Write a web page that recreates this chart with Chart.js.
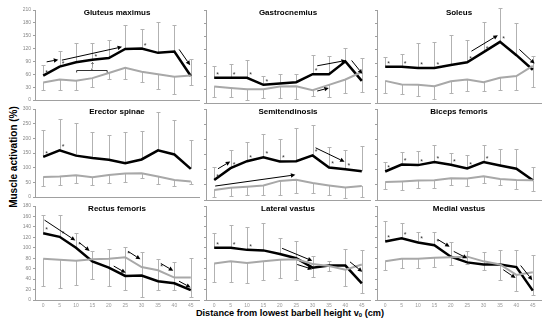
<!DOCTYPE html>
<html><head><meta charset="utf-8">
<script src="https://cdn.jsdelivr.net/npm/chart.js@4.4.0/dist/chart.umd.min.js"></script>
<style>
html,body{margin:0;padding:0;background:#fff;}
#wrap{position:relative;width:550px;height:322px;overflow:hidden;font-family:"Liberation Sans",Arial,sans-serif;}
#wrap canvas{position:absolute;}
.ytitle{position:absolute;left:12.5px;top:157px;transform:translate(-50%,-50%) rotate(-90deg);font-weight:bold;font-size:10px;white-space:nowrap;color:#000;}
.xtitle{position:absolute;left:290px;top:312.5px;transform:translate(-50%,-50%);font-weight:bold;font-size:9.2px;white-space:nowrap;color:#000;}
.xtitle sub{font-size:6px;vertical-align:-1px;}
</style></head>
<body><div id="wrap">
<div class="ytitle">Muscle activation (%)</div>
<div class="xtitle">Distance from lowest barbell height v<sub>0</sub> (cm)</div>
</div>
<script>
// ---------- categories & tick labels ----------
const distanceLabels = ['0','5','10','15','20','25','30','35','40','45'];
const row1Ticks = [0,30,60,90,120,150,180,210];
const row2Ticks = [0,50,100,150,200,250,300];
const row3Ticks = [0,20,40,60,80,100,120,140,160,180];

// ---------- Gluteus maximus ----------
const gluteusBlack      = [57, 78, 88, 94, 98, 119, 120, 110, 113, 56];
const gluteusBlackUpper = [82, 114, 132, 134, 140, 175, 166, 181, 174, 95];
const gluteusGrey       = [41, 48, 45, 51, 63, 75, 66, 60, 54, 57];
const gluteusGreyLower  = [23, 24, 23, 30, 49, 50, 41, 25, 14, 36];
const gluteusStars  = [[0,'b'],[1,'b'],[3,'b'],[6,'b']];
const gluteusArrows = [[0.21,89,0.92,94],[1.14,93,4.81,124],[8.29,118,8.96,81]];

// ---------- Gastrocnemius ----------
const gastroBlack      = [57, 57, 57, 41, 44, 47, 65, 65, 94, 50];
const gastroBlackUpper = [84, 89, 96, 62, 66, 66, 108, 106, 124, 102];
const gastroGrey       = [37, 34, 31, 31, 37, 38, 29, 41, 53, 70];
const gastroGreyLower  = [13, 13, 6, 12, 12, 9, 16, 13, 23, 25];
const gastroStars  = [[0,'b'],[1,'b'],[2,'b'],[3,'b'],[6,'b']];
const gastroArrows = [[6.28,84,8.03,96],[6.28,27,6.99,34],[8.38,96,9.03,66]];

// ---------- Soleus ----------
const soleusBlack      = [82, 82, 79, 79, 86, 92, 115, 138, 108, 75];
const soleusBlackUpper = [103, 110, 135, 137, 154, 142, 182, 214, 180, 106];
const soleusGrey       = [50, 42, 41, 38, 49, 53, 47, 57, 61, 84];
const soleusGreyLower  = [22, 21, 16, 10, 22, 28, 27, 30, 30, 37];
const soleusStars  = [[0,'b'],[1,'b'],[2,'b'],[3,'b'],[5,'b'],[6,'b'],[7,'b']];
const soleusArrows = [[5.26,117,6.87,153],[8.18,121,9.11,89]];

// ---------- Erector spinae ----------
const erectorBlack      = [137, 159, 141, 133, 127, 115, 128, 159, 145, 96];
const erectorBlackUpper = [229, 266, 251, 221, 212, 223, 225, 290, 262, 196];
const erectorGrey       = [68, 70, 74, 67, 75, 80, 81, 70, 58, 53];
const erectorGreyLower  = [38, 41, 49, 40, 48, 52, 64, 46, 37, 45];
const erectorStars  = [[0,'b'],[1,'b']];
const erectorArrows = [];

// ---------- Semitendinosis ----------
const semiBlack      = [66, 105, 128, 141, 127, 128, 147, 107, 101, 95];
const semiBlackUpper = [108, 164, 192, 219, 201, 236, 248, 175, 165, 177];
const semiGrey       = [33, 40, 44, 48, 63, 67, 56, 48, 41, 46];
const semiGreyLower  = [11, 13, 15, 15, 18, 24, 24, 15, 7, 11];
const semiStars  = [[0,'b'],[1,'b'],[2,'b'],[3,'b'],[4,'b'],[6,'b'],[7,'b'],[8,'b']];
const semiArrows = [[0.23,103,0.98,127],[6.18,172,7.95,126],[0.06,46,4.95,83]];

// ---------- Biceps femoris ----------
const bicepsBlack      = [94, 117, 115, 125, 116, 104, 125, 114, 103, 65];
const bicepsBlackUpper = [126, 159, 163, 181, 155, 149, 182, 169, 167, 110];
const bicepsGrey       = [59, 61, 64, 65, 72, 71, 78, 69, 66, 65];
const bicepsGreyLower  = [37, 33, 41, 40, 48, 46, 57, 48, 35, 29];
const bicepsStars  = [[0,'b'],[1,'b'],[2,'b'],[3,'b'],[4,'b'],[5,'b'],[6,'b']];
const bicepsArrows = [];

// ---------- Rectus femoris ----------
const rectusBlack      = [128, 121, 100, 74, 62, 46, 47, 36, 32, 19];
const rectusBlackUpper = [163, 162, 128, 93, 97, 101, 91, 79, 72, 80];
const rectusGrey       = [79, 77, 75, 78, 79, 82, 63, 57, 43, 43];
const rectusGreyLower  = [27, 23, 29, 41, 26, 20, 6, 20, 20, 6];
const rectusStars  = [[0,'b'],[1,'b'],[2,'b'],[5,'g'],[7,'g']];
const rectusArrows = [[0.08,153,1.96,114],[2.2,110,2.83,94],[4.3,65,5.03,52],[5.18,93,5.93,78],[7.17,70,7.93,56],[8.28,36,8.99,24]];

// ---------- Lateral vastus ----------
const lateralBlack      = [100, 100, 96, 95, 88, 80, 62, 66, 66, 32];
const lateralBlackUpper = [128, 144, 139, 147, 118, 113, 84, 74, 98, 95];
const lateralGrey       = [70, 74, 71, 74, 77, 78, 69, 65, 58, 68];
const lateralGreyLower  = [35, 34, 32, 39, 42, 38, 45, 55, 27, 13];
const lateralStars  = [[0,'b'],[1,'b'],[2,'b']];
const lateralArrows = [[4.14,99,5.98,75],[5.06,68,5.98,59],[8.28,73,9.03,54]];

// ---------- Medial vastus ----------
const medialBlack      = [112, 118, 110, 105, 83, 72, 68, 68, 63, 18];
const medialBlackUpper = [152, 148, 130, 130, 112, 93, 91, 96, 96, 86];
const medialGrey       = [74, 79, 79, 81, 82, 83, 74, 68, 48, 53];
const medialGreyLower  = [57, 62, 62, 64, 67, 68, 57, 38, 17, 10];
const medialStars  = [[0,'b'],[1,'b'],[2,'b'],[3,'b']];
const medialArrows = [[3.2,116,3.93,102],[4.18,93,5.0,80],[7.2,58,7.95,42],[8.26,66,8.97,38]];

// ---------- layout (positions only) ----------
const colLeft = [35, 206, 377];
const rowTop = [10, 109.3, 206];
const rowBottom = [102.5, 200.7, 300];
const areaW = 163.5, YW = 14, PT = 6, PR = 4;

const panels = [
  {name:'Gluteus maximus', c:0, r:0, ticks:row1Ticks, b:gluteusBlack, bu:gluteusBlackUpper, g:gluteusGrey, gl:gluteusGreyLower, stars:gluteusStars, arrows:gluteusArrows,
    bracket:{x0:2.04, x1:3.9, y:69, text:'\u2020', tx:3.0, ty:81}},
  {name:'Gastrocnemius', c:1, r:0, ticks:row1Ticks, b:gastroBlack, bu:gastroBlackUpper, g:gastroGrey, gl:gastroGreyLower, stars:gastroStars, arrows:gastroArrows},
  {name:'Soleus', c:2, r:0, ticks:row1Ticks, b:soleusBlack, bu:soleusBlackUpper, g:soleusGrey, gl:soleusGreyLower, stars:soleusStars, arrows:soleusArrows},
  {name:'Erector spinae', c:0, r:1, ticks:row2Ticks, b:erectorBlack, bu:erectorBlackUpper, g:erectorGrey, gl:erectorGreyLower, stars:erectorStars, arrows:erectorArrows},
  {name:'Semitendinosis', c:1, r:1, ticks:row2Ticks, b:semiBlack, bu:semiBlackUpper, g:semiGrey, gl:semiGreyLower, stars:semiStars, arrows:semiArrows},
  {name:'Biceps femoris', c:2, r:1, ticks:row2Ticks, b:bicepsBlack, bu:bicepsBlackUpper, g:bicepsGrey, gl:bicepsGreyLower, stars:bicepsStars, arrows:bicepsArrows},
  {name:'Rectus femoris', c:0, r:2, ticks:row3Ticks, b:rectusBlack, bu:rectusBlackUpper, g:rectusGrey, gl:rectusGreyLower, stars:rectusStars, arrows:rectusArrows},
  {name:'Lateral vastus', c:1, r:2, ticks:row3Ticks, b:lateralBlack, bu:lateralBlackUpper, g:lateralGrey, gl:lateralGreyLower, stars:lateralStars, arrows:lateralArrows},
  {name:'Medial vastus', c:2, r:2, ticks:row3Ticks, b:medialBlack, bu:medialBlackUpper, g:medialGrey, gl:medialGreyLower, stars:medialStars, arrows:medialArrows}
];

const FONT = '"Liberation Sans", Arial, sans-serif';
const AXIS = '#a0a0a0';

function makeDeco(p) {
  return {
    id: 'deco_' + p.c + p.r,
    beforeDatasetsDraw(chart) {
      const ctx = chart.ctx, xs = chart.scales.x, ys = chart.scales.y;
      ctx.save();
      ctx.strokeStyle = '#b2b2b2'; ctx.lineWidth = 1;
      const bars = (means, ends) => means.forEach((m, i) => {
        const x = Math.round(xs.getPixelForValue(i)) + 0.5;
        const y1 = ys.getPixelForValue(m), y2 = Math.round(ys.getPixelForValue(ends[i])) + 0.5;
        ctx.beginPath(); ctx.moveTo(x, y1); ctx.lineTo(x, y2);
        ctx.moveTo(x - 2, y2); ctx.lineTo(x + 2, y2); ctx.stroke();
      });
      bars(p.b, p.bu); bars(p.g, p.gl);
      ctx.restore();
    },
    afterDatasetsDraw(chart) {
      const ctx = chart.ctx, xs = chart.scales.x, ys = chart.scales.y, a = chart.chartArea;
      const xp = v => xs.left + (v + 0.5) * (xs.width / 10);
      ctx.save();
      ctx.fillStyle = '#000'; ctx.font = 'bold 8px ' + FONT;
      ctx.textAlign = 'center'; ctx.textBaseline = 'middle';
      ctx.fillText(p.name, (a.left + a.right) / 2, a.top + 2.5);
      ctx.font = '7px ' + FONT; ctx.fillStyle = '#333';
      p.stars.forEach(([i, s]) => {
        const v = s === 'b' ? p.b[i] : p.g[i];
        ctx.fillText('*', xs.getPixelForValue(i) + 3.5, ys.getPixelForValue(v) - 3);
      });
      ctx.strokeStyle = '#000'; ctx.fillStyle = '#000'; ctx.lineWidth = 1;
      p.arrows.forEach(([x0, y0, x1, y1]) => {
        const X0 = xp(x0), Y0 = ys.getPixelForValue(y0), X1 = xp(x1), Y1 = ys.getPixelForValue(y1);
        const ang = Math.atan2(Y1 - Y0, X1 - X0), L = 4.5, W = 2.2;
        const bx = X1 - L * Math.cos(ang), by = Y1 - L * Math.sin(ang);
        ctx.beginPath(); ctx.moveTo(X0, Y0); ctx.lineTo(bx, by); ctx.stroke();
        ctx.beginPath(); ctx.moveTo(X1, Y1);
        ctx.lineTo(bx + W * Math.sin(ang), by - W * Math.cos(ang));
        ctx.lineTo(bx - W * Math.sin(ang), by + W * Math.cos(ang));
        ctx.closePath(); ctx.fill();
      });
      if (p.bracket) {
        const k = p.bracket, y = Math.round(ys.getPixelForValue(k.y)) + 0.5;
        const X0 = xp(k.x0), X1 = xp(k.x1);
        ctx.strokeStyle = '#333';
        ctx.beginPath(); ctx.moveTo(X0, y + 2); ctx.lineTo(X0, y); ctx.lineTo(X1, y); ctx.lineTo(X1, y + 2);
        ctx.moveTo((X0 + X1) / 2, y); ctx.lineTo((X0 + X1) / 2, y - 2); ctx.stroke();
        ctx.fillStyle = '#333'; ctx.font = '7px ' + FONT;
        ctx.fillText(k.text, xp(k.tx), ys.getPixelForValue(k.ty));
      }
      ctx.restore();
    }
  };
}

const wrap = document.getElementById('wrap');
panels.forEach(p => {
  const areaH = rowBottom[p.r] - rowTop[p.r];
  const XH = p.r === 2 ? 10 : 2;
  const cv = document.createElement('canvas');
  const W = YW + areaW + PR, H = PT + areaH + XH;
  cv.width = Math.round(W); cv.height = Math.round(H);
  cv.style.left = (colLeft[p.c] - YW) + 'px';
  cv.style.top = (rowTop[p.r] - PT) + 'px';
  cv.style.width = Math.round(W) + 'px'; cv.style.height = Math.round(H) + 'px';
  wrap.appendChild(cv);
  const t = p.ticks;
  new Chart(cv, {
    type: 'line',
    data: {
      labels: distanceLabels,
      datasets: [
        {data: p.g, borderColor: '#a8a8a8', borderWidth: 2, pointRadius: 0, tension: 0, clip: false},
        {data: p.b, borderColor: '#000', borderWidth: 2.5, pointRadius: 0, tension: 0, clip: false}
      ]
    },
    options: {
      responsive: false, animation: false, devicePixelRatio: 1,
      layout: {padding: {left: 0, top: PT, right: PR, bottom: 0}},
      plugins: {legend: {display: false}, tooltip: {enabled: false}, title: {display: false}},
      scales: {
        x: {
          type: 'category', offset: true,
          grid: {display: false, drawTicks: false, tickLength: 0},
          border: {display: true, color: AXIS, width: 1},
          ticks: {display: p.r === 2, font: {size: 5, family: FONT}, color: '#999', padding: 2.5, maxRotation: 0, autoSkip: false},
          afterFit(s) { s.height = XH; }
        },
        y: {
          min: t[0], max: t[t.length - 1],
          grid: {display: true, drawOnChartArea: false, drawTicks: true, tickLength: 2, color: AXIS},
          border: {display: true, color: AXIS, width: 1},
          ticks: {display: p.c === 0, stepSize: t[1] - t[0], font: {size: 5, family: FONT}, color: '#888', padding: 2},
          afterFit(s) { s.width = YW; }
        }
      }
    },
    plugins: [makeDeco(p)]
  });
});
</script>
</body></html>
